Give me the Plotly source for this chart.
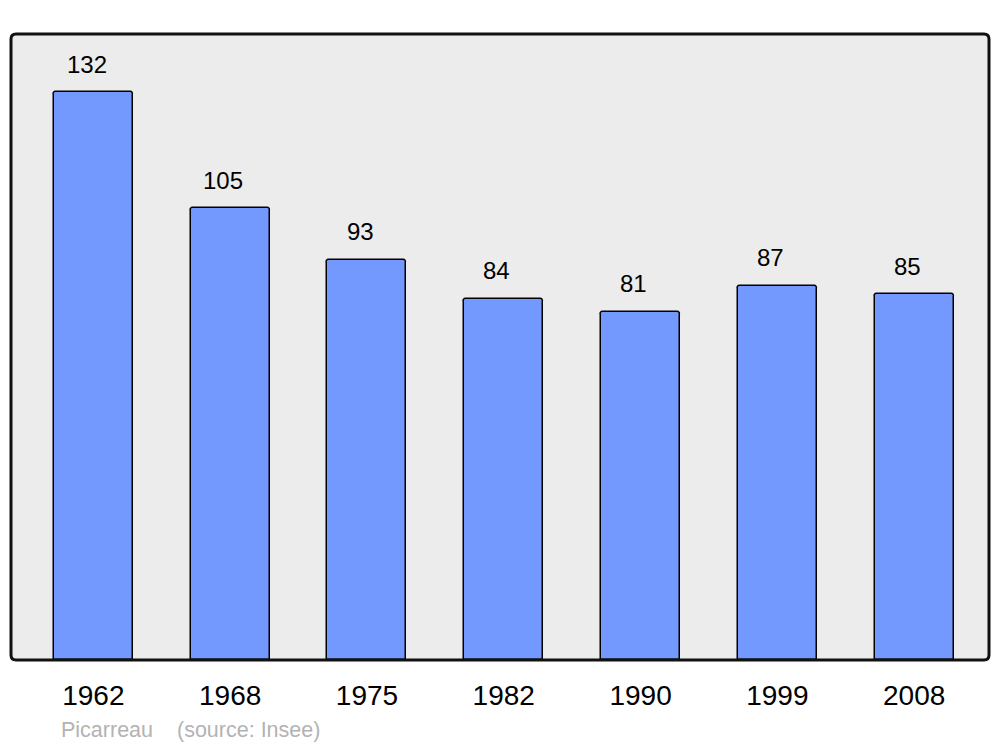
import plotly.graph_objects as go

years = ["1962", "1968", "1975", "1982", "1990", "1999", "2008"]
population = [132, 105, 93, 84, 81, 87, 85]
author = "Picarreau"
source = "(source: Insee)"

xpos = list(range(len(years)))

# page body has an 8px margin; figure is sized/offset to compensate
W, H = 992, 739
L, T, R, B = 3, 26, 11, 87
pw, ph = W - L - R, H - T - B

fig = go.Figure()
fig.add_trace(go.Bar(
    x=xpos, y=population, width=0.577,
    marker=dict(color="#7399FF", line=dict(color="#000000", width=1.5), cornerradius=3),
    hoverinfo="x+y",
))

for i, v in zip(xpos, population):
    fig.add_annotation(x=i - 0.05, y=v, xref="x", yref="y", text=str(v), showarrow=False,
                       yshift=28, font=dict(family="Liberation Sans, Arial", size=24, color="#000000"),
                       xanchor="center", yanchor="middle")

fig.add_annotation(x=(59 - 11) / pw, y=(660 - 730) / ph, xref="paper", yref="paper",
                   text=author, showarrow=False, xanchor="left", yanchor="middle",
                   font=dict(family="Liberation Sans, Arial", size=21.5, color="#B3B3B3"))
fig.add_annotation(x=(175 - 11) / pw, y=(660 - 730) / ph, xref="paper", yref="paper",
                   text=source, showarrow=False, xanchor="left", yanchor="middle",
                   font=dict(family="Liberation Sans, Arial", size=21.5, color="#B3B3B3"))

# rounded plot border
rx = 5 / pw
ry = 5 / ph
path = (f"M {rx},0 L {1-rx},0 Q 1,0 1,{ry} L 1,{1-ry} Q 1,1 {1-rx},1 "
        f"L {rx},1 Q 0,1 0,{1-ry} L 0,{ry} Q 0,0 {rx},0 Z")
fig.add_shape(type="path", path=path, xref="paper", yref="paper",
              line=dict(color="#111111", width=3), layer="above")

fig.update_layout(
    width=W, height=H,
    margin=dict(l=L, r=R, t=T, b=B),
    paper_bgcolor="#FFFFFF", plot_bgcolor="#ECECEC",
    showlegend=False, bargap=0,
    xaxis=dict(range=[-0.602, 6.547], tickmode="array", tickvals=xpos, ticktext=years,
               showgrid=False, zeroline=False, showline=False, ticks="",
               tickfont=dict(family="Liberation Sans, Arial", size=28, color="#000000"),
               ticklabelstandoff=16),
    yaxis=dict(range=[0, 145.5], showgrid=False, zeroline=False, showline=False,
               showticklabels=False, ticks=""),
)

fig.write_html("out.html")
